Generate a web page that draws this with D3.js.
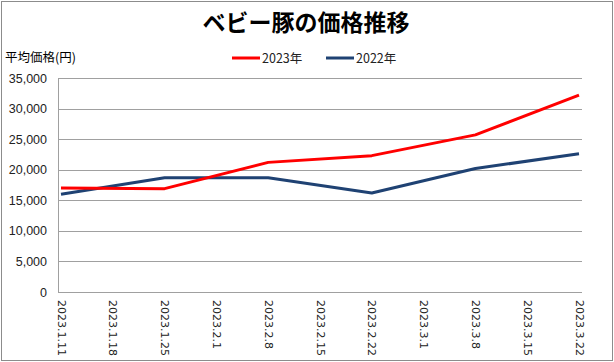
<!DOCTYPE html>
<html>
<head>
<meta charset="utf-8">
<script src="https://cdn.jsdelivr.net/npm/d3@7"></script>
<style>
  body { margin: 0; background: #fff; }
  svg { display: block; }
</style>
</head>
<body>
<div id="chart"></div>
<script>
const dates = ["2023.1.11", "2023.1.18", "2023.1.25", "2023.2.1", "2023.2.8", "2023.2.15",
    "2023.2.22", "2023.3.1", "2023.3.8", "2023.3.15", "2023.3.22"];
// only every other week has a value, the line joins across the gaps
const price2023 = [17000, null, 16900, null, 21200, null, 22300, null, 25700, null, 32200];
const price2022 = [16000, null, 18700, null, 18700, null, 16200, null, 20200, null, 22600];
const yTicks = [0, 5000, 10000, 15000, 20000, 25000, 30000, 35000];

const W = 614, H = 362;
const plot = { left: 58, right: 582, top: 78, bottom: 292 };

const svg = d3.select("#chart")
    .append("svg")
    .attr("width", W)
    .attr("height", H);

// outer border
svg.append("rect")
    .attr("x", 1.5).attr("y", 1.5)
    .attr("width", W - 3).attr("height", H - 3)
    .attr("fill", "#fff")
    .attr("stroke", "#8c8c8c")
    .attr("stroke-width", 1);

const x = d3.scalePoint()
    .domain(dates)
    .range([61, 579]);

const y = d3.scaleLinear()
    .domain([0, 35000])
    .range([plot.bottom, plot.top]);

// grid
svg.append("g")
    .selectAll("line")
    .data(yTicks.slice(1))
    .enter()
    .append("line")
    .attr("x1", plot.left)
    .attr("x2", plot.right)
    .attr("y1", d => Math.round(y(d)) + 0.5)
    .attr("y2", d => Math.round(y(d)) + 0.5)
    .attr("stroke", "#a0a0a0")
    .attr("stroke-width", 1);

// y axis
const yAxis = svg.append("g")
    .attr("transform", `translate(${plot.left},0)`)
    .call(d3.axisLeft(y).tickValues(yTicks).tickSize(0).tickPadding(11)
        .tickFormat(d3.format(",")));
yAxis.select(".domain").attr("stroke", "#a0a0a0");
yAxis.selectAll("text")
    .attr("fill", "#222")
    .style("font-family", "'Liberation Sans', Arial, sans-serif")
    .style("font-size", "12.5px");

// x axis
const xAxis = svg.append("g")
    .attr("transform", `translate(0,${plot.bottom})`)
    .call(d3.axisBottom(x).tickSize(0).tickSizeOuter(0));
xAxis.select(".domain")
    .attr("d", `M${plot.left},0.5H${plot.right}`)
    .attr("stroke", "#a0a0a0");
xAxis.selectAll("text")
    .attr("transform", "rotate(90)")
    .attr("x", 8)
    .attr("y", 0)
    .attr("dy", "0.35em")
    .style("text-anchor", "start")
    .attr("fill", "#222")
    .style("font-family", "'DejaVu Sans', sans-serif")
    .style("font-size", "11px");

// left axis line again, over the grid
svg.append("line")
    .attr("x1", plot.left + 0.5).attr("x2", plot.left + 0.5)
    .attr("y1", plot.top).attr("y2", plot.bottom)
    .attr("stroke", "#a0a0a0");

const line = d3.line()
    .x(d => x(d.date))
    .y(d => y(d.value));

const series = [
    { name: "2023年", values: price2023, color: "#ff0000" },
    { name: "2022年", values: price2022, color: "#1f4273" }
];

// 2022 under 2023
series.slice().reverse().forEach(s => {
    const pts = dates.map((d, i) => ({ date: d, value: s.values[i] }))
        .filter(p => p.value !== null);
    svg.append("path")
        .datum(pts)
        .attr("d", line)
        .attr("fill", "none")
        .attr("stroke", s.color)
        .attr("stroke-width", 3)
        .attr("stroke-linejoin", "round");
});

// title
svg.append("text")
    .attr("x", 306)
    .attr("y", 31)
    .attr("text-anchor", "middle")
    .style("font-family", "'Noto Sans CJK JP', sans-serif")
    .style("font-weight", "bold")
    .style("font-size", "23px")
    .attr("fill", "#000")
    .text("ベビー豚の価格推移");

// y label
svg.append("text")
    .attr("x", 5)
    .attr("y", 62)
    .style("font-family", "'Noto Sans CJK JP', sans-serif")
    .style("font-size", "12.5px")
    .attr("fill", "#000")
    .text("平均価格(円)");

// legend
const legend = svg.append("g")
    .attr("transform", "translate(232,58)");
const item = legend.selectAll(".legend-item")
    .data(series)
    .enter()
    .append("g")
    .attr("class", "legend-item")
    .attr("transform", (d, i) => `translate(${i * 94},0)`);
item.append("line")
    .attr("x1", 0).attr("x2", 28)
    .attr("y1", 0).attr("y2", 0)
    .attr("stroke", d => d.color)
    .attr("stroke-width", 3);
item.append("text")
    .attr("x", 30)
    .attr("y", 0)
    .attr("dy", "0.36em")
    .style("font-family", "'Noto Sans CJK JP', sans-serif")
    .style("font-size", "12.5px")
    .attr("fill", "#222")
    .text(d => d.name);
</script>
</body>
</html>
